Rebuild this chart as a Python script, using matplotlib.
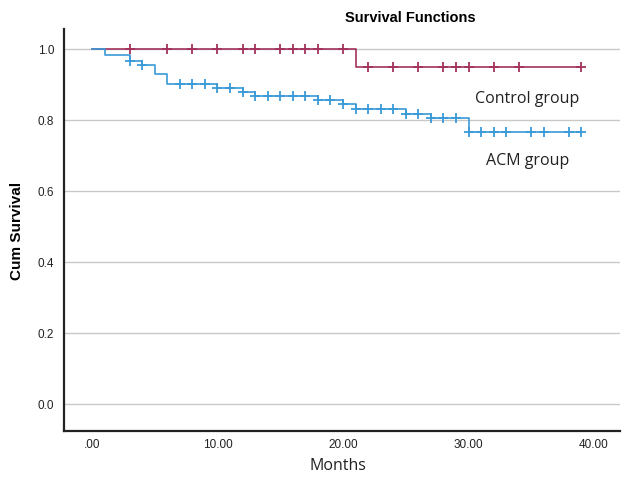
import matplotlib
matplotlib.use("Agg")
import matplotlib.pyplot as plt
import numpy as np

# Kaplan-Meier step data
ctrl_times = [0, 21, 39]
ctrl_surv = [1.0, 0.95, 0.95]
ctrl_cens = [3, 6, 8, 10, 12, 13, 15, 16, 17, 18, 20, 22, 24, 26, 28, 29, 30, 32, 34, 39]

acm_times = [0, 1, 3, 4, 5, 6, 10, 12, 13, 18, 20, 21, 25, 27, 30, 39]
acm_surv = [1.0, 0.983, 0.966, 0.955, 0.930, 0.900, 0.889, 0.878, 0.866,
            0.855, 0.845, 0.830, 0.818, 0.806, 0.766, 0.766]
acm_cens = [3, 4, 7, 8, 9, 10, 11, 12, 13, 14, 15, 16, 17, 18, 19, 20, 21, 22, 23,
            24, 25, 26, 27, 28, 29, 30, 31, 32, 33, 35, 36, 38, 39]

xticks = [0, 10, 20, 30, 40]
xtick_labels = [".00", "10.00", "20.00", "30.00", "40.00"]
yticks = [0.0, 0.2, 0.4, 0.6, 0.8, 1.0]

ctrl_color = "#a3325c"
acm_color = "#3a9ad8"


def surv_at(t, times, surv):
    idx = np.searchsorted(times, t, side="right") - 1
    return surv[idx]


fig = plt.figure(figsize=(6.25, 4.81), dpi=100)
ax = fig.add_axes([0.1024, 0.1019, 0.8896, 0.8357])

for y in yticks:
    ax.axhline(y, color="#c8c8c8", lw=1.0, zorder=0)

for times, surv, cens, col in [(ctrl_times, ctrl_surv, ctrl_cens, ctrl_color),
                               (acm_times, acm_surv, acm_cens, acm_color)]:
    ax.step(times, surv, where="post", color=col, lw=1.2, zorder=3)
    cy = [surv_at(t, times, surv) for t in cens]
    ax.plot(cens, cy, linestyle="none", marker="+", ms=6.5, mew=1.3, color=col, zorder=4)

ax.set_xlim(-2.23, 42.07)
ax.set_ylim(-0.076, 1.056)
ax.set_xticks(xticks)
ax.set_xticklabels(xtick_labels)
ax.set_yticks(yticks)
ax.set_yticklabels([f"{v:.1f}" for v in yticks])
ax.tick_params(length=0, labelsize=8.5, pad=7, labelcolor="#222222")
for lab in ax.get_xticklabels() + ax.get_yticklabels():
    lab.set_family("Liberation Sans")
ax.tick_params(axis="x", pad=5)

for s in ["top", "right"]:
    ax.spines[s].set_visible(False)
for s in ["left", "bottom"]:
    ax.spines[s].set_linewidth(1.6)
    ax.spines[s].set_color("#222222")

ax.set_ylabel("Cum Survival", fontsize=11, fontweight="bold",
              family="Liberation Sans", labelpad=10)
fig.text(0.541, 0.031, "Months", fontsize=11.5, family="Open Sans",
         ha="center", va="center", color="#222222")
fig.text(0.656, 0.962, "Survival Functions", fontsize=10.5, fontweight="bold",
         family="Liberation Sans", ha="center", va="center")

ax.text(34.7, 0.863, "Control group", fontsize=11.5, family="Open Sans",
        ha="center", va="center", color="#222222")
ax.text(34.7, 0.688, "ACM group", fontsize=11.5, family="Open Sans",
        ha="center", va="center", color="#222222")

fig.savefig("out.png", dpi=100)
